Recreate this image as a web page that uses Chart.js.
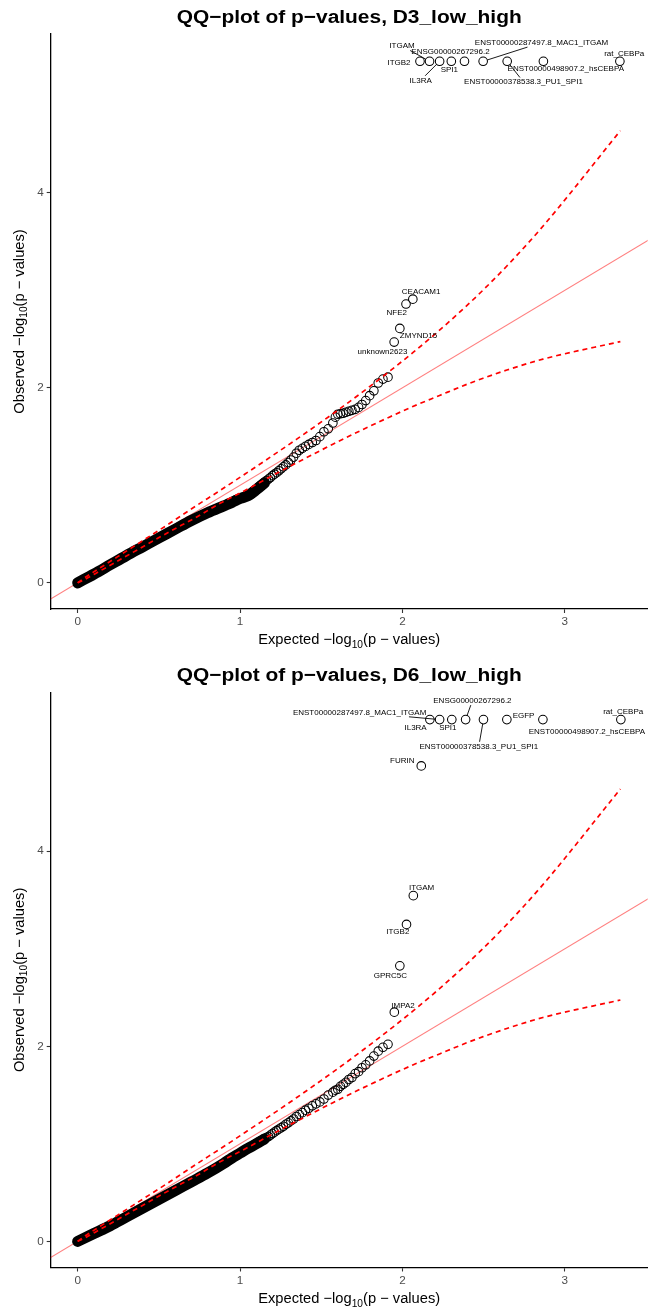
<!DOCTYPE html>
<html>
<head>
<meta charset="utf-8">
<script src="https://cdn.jsdelivr.net/npm/chart.js@4.4.0/dist/chart.umd.min.js"></script>
<style>
html,body{margin:0;padding:0;background:#fff;}
.wrap{position:relative;width:653px;height:657px;}
canvas{display:block;}
</style>
</head>
<body>
<div class="wrap"><canvas id="c1" width="653" height="657"></canvas></div>
<div class="wrap"><canvas id="c2" width="653" height="657"></canvas></div>
<script>
// ---------- shared ----------
const xTicks = [0, 1, 2, 3];
const yTicks = [0, 2, 4];
const diagX = [-1, 4];
const diagY = [-1, 4];
const ciExpected = [0.0002, 0.0416, 0.1386, 0.343, 0.565, 0.7414, 0.8668, 1.0436, 1.1994, 1.347, 1.5716, 1.751, 1.911, 2.064, 2.2285, 2.388, 2.497, 2.643, 2.865, 3.342];
const ciUpper    = [0.0000, 0.0506, 0.1543, 0.3715, 0.6084, 0.803, 0.9367, 1.131, 1.3045, 1.472, 1.735, 1.954, 2.158, 2.361, 2.592, 2.831, 3.004, 3.250, 3.658, 4.638];
const ciLower    = [0.0015, 0.0334, 0.1228, 0.3153, 0.5243, 0.6835, 0.8063, 0.9596, 1.1002, 1.230, 1.422, 1.569, 1.694, 1.809, 1.922, 2.031, 2.099, 2.183, 2.295, 2.475];

// ---------- D3_low_high ----------
const d3BandExpected = [0, 0.1, 0.2, 0.3, 0.4, 0.5, 0.6, 0.7, 0.8, 0.9, 0.95, 1.0, 1.05, 1.1, 1.15];
const d3BandObserved = [0, 0.09, 0.185, 0.28, 0.37, 0.46, 0.55, 0.64, 0.72, 0.79, 0.825, 0.865, 0.895, 0.955, 1.025];
const d3Expected = [1.911, 1.880, 1.851, 1.824, 1.798, 1.774, 1.751, 1.730, 1.709, 1.689, 1.670, 1.652, 1.635, 1.618, 1.602, 1.587,
  1.5716, 1.5431, 1.5164, 1.4912, 1.4674, 1.4448, 1.4234, 1.4029, 1.3834, 1.3647, 1.3468, 1.3296, 1.3130, 1.2971, 1.2817, 1.2669,
  1.2525, 1.2386, 1.2252, 1.2121, 1.1994, 1.1871, 1.1751, 1.1635, 1.1521, 1.1410, 1.1249, 1.1094, 1.0945, 1.0800, 1.0660, 1.0524,
  1.0307, 1.0100, 0.9902, 0.9714, 0.9533, 0.9275];
const d3Observed = [2.11, 2.09, 2.05, 1.97, 1.92, 1.87, 1.83, 1.80, 1.78, 1.77, 1.76, 1.75, 1.74, 1.735, 1.73, 1.70,
  1.64, 1.58, 1.55, 1.50, 1.46, 1.44, 1.42, 1.40, 1.38, 1.36, 1.33, 1.29, 1.26, 1.235, 1.21, 1.19,
  1.17, 1.15, 1.13, 1.115, 1.10, 1.08, 1.065, 1.05, 1.035, 1.02, 1.00, 0.98, 0.96, 0.94, 0.92, 0.90,
  0.89, 0.875, 0.86, 0.85, 0.835, 0.815];
const d3HitNames = ['ITGB2', 'ITGAM', 'IL3RA', 'SPI1', 'ENSG00000267296.2', 'ENST00000287497.8_MAC1_ITGAM', 'ENST00000378538.3_PU1_SPI1', 'ENST00000498907.2_hsCEBPA', 'rat_CEBPa', 'CEACAM1', 'NFE2', 'ZMYND15', 'unknown2623'];
const d3HitExpected = [2.108, 2.167, 2.229, 2.301, 2.382, 2.497, 2.645, 2.868, 3.339, 2.064, 2.022, 1.984, 1.949];
const d3HitObserved = [5.35, 5.35, 5.35, 5.35, 5.35, 5.35, 5.35, 5.35, 5.35, 2.91, 2.86, 2.61, 2.47];
// label layout (pixel offsets of text centre from its point; segment flag)
const d3LabelDx  = [-21, -27.5, -19, -2, -14, 58.4, 16.3, 22.4, 4.3, 8.3, -9.3, 18.7, -11.7];
const d3LabelDy  = [1, -15.3, 19, 8, -10, -18.7, 20.7, 7.3, -7.7, -7.3, 8.3, 7.4, 9.4];
const d3LabelSeg = [0, 1, 1, 0, 0, 1, 1, 0, 0, 0, 0, 0, 0];

// ---------- D6_low_high ----------
const d6BandExpected = [0, 0.1, 0.2, 0.3, 0.4, 0.5, 0.6, 0.7, 0.8, 0.9, 0.95, 1.0, 1.05, 1.1, 1.15];
const d6BandObserved = [0, 0.08, 0.16, 0.25, 0.34, 0.43, 0.52, 0.61, 0.70, 0.80, 0.855, 0.905, 0.955, 1.0, 1.05];
const d6Expected = [1.911, 1.880, 1.851, 1.824, 1.798, 1.774, 1.751, 1.730, 1.709, 1.689, 1.670, 1.652, 1.635, 1.618, 1.602, 1.587,
  1.5716, 1.5431, 1.5164, 1.4912, 1.4674, 1.4448, 1.4234, 1.4029, 1.3834, 1.3647, 1.3468, 1.3296, 1.3130, 1.2971, 1.2817, 1.2669,
  1.2525, 1.2386, 1.2252, 1.2121, 1.1994, 1.1871, 1.1751, 1.1635, 1.1521, 1.1410, 1.1249, 1.1094, 1.0945, 1.0800, 1.0660, 1.0524,
  1.0307, 1.0100, 0.9902, 0.9714, 0.9533, 0.9275];
const d6Observed = [2.02, 1.99, 1.95, 1.90, 1.85, 1.81, 1.78, 1.74, 1.72, 1.68, 1.66, 1.63, 1.61, 1.59, 1.56, 1.55,
  1.53, 1.50, 1.46, 1.43, 1.41, 1.39, 1.365, 1.345, 1.32, 1.30, 1.28, 1.255, 1.235, 1.215, 1.20, 1.18,
  1.165, 1.15, 1.135, 1.12, 1.105, 1.09, 1.075, 1.065, 1.055, 1.045, 1.03, 1.015, 1.0, 0.985, 0.97, 0.955,
  0.935, 0.915, 0.895, 0.875, 0.86, 0.835];
const d6HitNames = ['IL3RA', 'ENST00000287497.8_MAC1_ITGAM', 'SPI1', 'ENSG00000267296.2', 'ENST00000378538.3_PU1_SPI1', 'EGFP', 'ENST00000498907.2_hsCEBPA', 'rat_CEBPa', 'FURIN', 'ITGAM', 'ITGB2', 'GPRC5C', 'IMPA2'];
const d6HitExpected = [2.169, 2.229, 2.304, 2.389, 2.499, 2.643, 2.865, 3.345, 2.116, 2.067, 2.025, 1.984, 1.950];
const d6HitObserved = [5.35, 5.35, 5.35, 5.35, 5.35, 5.35, 5.35, 5.35, 4.875, 3.545, 3.25, 2.825, 2.35];
const d6LabelDx  = [-14.3, -80, -4, 6.8, -4.7, 16.7, 44, 2.3, -19, 8.3, -8.7, -9.5, 8.7];
const d6LabelDy  = [7.7, -7.3, 7.7, -19, 26.7, -4, 12, -8, -4.7, -7.4, 7.4, 9.7, -6.6];
const d6LabelSeg = [0, 1, 0, 1, 1, 0, 0, 0, 0, 0, 0, 0, 0];

const FONT = '"Liberation Sans", Arial, Helvetica, sans-serif';

function pts(xs, ys) { return xs.map((x, i) => ({ x: x, y: ys[i] })); }

function mathTitle(ctx, prefix, cx, cy, rot) {
  const big = '14.7px ' + FONT, small = '10.2px ' + FONT;
  const parts = [[prefix + ' \u2212log', big, 0], ['10', small, 3.6], ['(p \u2212 values)', big, 0]];
  ctx.save();
  ctx.translate(cx, cy);
  if (rot) ctx.rotate(-Math.PI / 2);
  let tot = 0;
  parts.forEach(p => { ctx.font = p[1]; p.w = ctx.measureText(p[0]).width; tot += p.w; });
  let x = -tot / 2;
  ctx.textAlign = 'left'; ctx.textBaseline = 'alphabetic'; ctx.fillStyle = '#000';
  parts.forEach(p => { ctx.font = p[1]; ctx.fillText(p[0], x, p[2]); x += p.w; });
  ctx.restore();
}

const qqDecor = {
  id: 'qqDecor',
  afterDatasetsDraw(chart, args, o) {
    const ctx = chart.ctx, xs = chart.scales.x, ys = chart.scales.y;
    ctx.save();
    ctx.font = '8px ' + FONT;
    ctx.textAlign = 'center'; ctx.textBaseline = 'middle';
    o.names.forEach((n, i) => {
      const px = xs.getPixelForValue(o.ex[i]), py = ys.getPixelForValue(o.ob[i]);
      const tx = px + o.dx[i], ty = py + o.dy[i];
      if (o.seg[i]) {
        const w = ctx.measureText(n).width / 2 + 1, h = 4.5;
        const vx = px - tx, vy = py - ty;
        const t = Math.min(Math.abs(vx) > 0 ? w / Math.abs(vx) : Infinity, Math.abs(vy) > 0 ? h / Math.abs(vy) : Infinity);
        const sx = tx + vx * t, sy = ty + vy * t;
        const L = Math.hypot(px - sx, py - sy), r = 4.3;
        const exx = px - (px - sx) / L * r, eyy = py - (py - sy) / L * r;
        ctx.beginPath(); ctx.moveTo(sx, sy); ctx.lineTo(exx, eyy);
        ctx.lineWidth = 0.9; ctx.strokeStyle = '#000'; ctx.stroke();
      }
      ctx.fillStyle = '#000';
      ctx.fillText(n, tx, ty);
    });
    ctx.restore();
  },
  afterDraw(chart, args, o) {
    const ctx = chart.ctx, a = chart.chartArea;
    ctx.save();
    ctx.font = 'bold 18.7px ' + FONT;
    ctx.textAlign = 'center'; ctx.textBaseline = 'alphabetic'; ctx.fillStyle = '#000';
    const w = ctx.measureText(o.title).width;
    ctx.translate((a.left + a.right) / 2, o.titleY);
    ctx.scale(o.titleWidth / w, 1);
    ctx.fillText(o.title, 0, 0);
    ctx.restore();
    mathTitle(ctx, 'Expected', (a.left + a.right) / 2, o.xTitleY, false);
    mathTitle(ctx, 'Observed', o.yTitleX, (a.top + a.bottom) / 2, true);
  }
};

function makeChart(id, cfg) {
  const datasets = [
    { // CI upper
      data: pts(ciExpected, ciUpper), showLine: true, pointRadius: 0, borderColor: '#FF0000',
      borderWidth: 1.7, borderDash: [5, 4], cubicInterpolationMode: 'monotone', order: 0, fill: false
    },
    { // CI lower
      data: pts(ciExpected, ciLower), showLine: true, pointRadius: 0, borderColor: '#FF0000',
      borderWidth: 1.7, borderDash: [5, 4], cubicInterpolationMode: 'monotone', order: 0, fill: false
    },
    { // dense band of observed points
      data: pts(cfg.bandX, cfg.bandY), showLine: true, pointRadius: 0, borderColor: '#000',
      borderWidth: 11, borderCapStyle: 'round', borderJoinStyle: 'round', cubicInterpolationMode: 'monotone', order: 1, fill: false
    },
    { // individual observed points
      data: pts(cfg.ex, cfg.ob), showLine: false, pointRadius: 4.3, pointBorderWidth: 1.05,
      pointBorderColor: '#000', pointBackgroundColor: 'rgba(0,0,0,0)', order: 1
    },
    { // labelled hits
      data: pts(cfg.hitX, cfg.hitY), showLine: false, pointRadius: 4.3, pointBorderWidth: 1.05,
      pointBorderColor: '#000', pointBackgroundColor: 'rgba(0,0,0,0)', order: 1
    },
    { // y = x
      data: pts(diagX, diagY), showLine: true, pointRadius: 0, borderColor: 'rgba(255,0,0,0.5)',
      borderWidth: 1.1, order: 2, fill: false
    }
  ];
  return new Chart(document.getElementById(id), {
    type: 'scatter',
    data: { datasets: datasets },
    plugins: [qqDecor],
    options: {
      responsive: false, animation: false, devicePixelRatio: 1,
      layout: { padding: { left: 0, right: 0, top: cfg.top, bottom: 0 } },
      plugins: {
        legend: { display: false }, title: { display: false }, tooltip: { enabled: false },
        qqDecor: {
          names: cfg.names, ex: cfg.hitX, ob: cfg.hitY, dx: cfg.dx, dy: cfg.dy, seg: cfg.seg,
          title: cfg.title, titleY: cfg.titleY, titleWidth: 345, xTitleY: cfg.xTitleY, yTitleX: 23.5
        }
      },
      scales: {
        x: {
          type: 'linear', min: -0.166, max: 3.51,
          afterBuildTicks: s => { s.ticks = xTicks.map(v => ({ value: v })); },
          afterFit: s => { s.height = cfg.xAxisH; },
          grid: { drawOnChartArea: false, drawTicks: true, tickLength: 4, tickColor: '#333', tickWidth: 1.1 },
          border: { display: true, color: '#000', width: 1.3 },
          ticks: { color: '#4D4D4D', font: { family: FONT, size: 11.7 }, padding: 2, maxRotation: 0, autoSkip: false }
        },
        y: {
          type: 'linear', min: -0.268, max: 5.63,
          afterBuildTicks: s => { s.ticks = yTicks.map(v => ({ value: v })); },
          afterFit: s => { s.width = 50.7; },
          grid: { drawOnChartArea: false, drawTicks: true, tickLength: 4, tickColor: '#333', tickWidth: 1.1 },
          border: { display: true, color: '#000', width: 1.3 },
          ticks: { color: '#4D4D4D', font: { family: FONT, size: 11.7 }, padding: 3, autoSkip: false }
        }
      }
    }
  });
}

makeChart('c1', {
  title: 'QQ\u2212plot of p\u2212values, D3_low_high', titleY: 22.7, xTitleY: 644.3, top: 34, xAxisH: 48,
  bandX: d3BandExpected, bandY: d3BandObserved, ex: d3Expected, ob: d3Observed,
  hitX: d3HitExpected, hitY: d3HitObserved, names: d3HitNames, dx: d3LabelDx, dy: d3LabelDy, seg: d3LabelSeg
});
makeChart('c2', {
  title: 'QQ\u2212plot of p\u2212values, D6_low_high', titleY: 24, xTitleY: 646.3, top: 35.3, xAxisH: 46.5,
  bandX: d6BandExpected, bandY: d6BandObserved, ex: d6Expected, ob: d6Observed,
  hitX: d6HitExpected, hitY: d6HitObserved, names: d6HitNames, dx: d6LabelDx, dy: d6LabelDy, seg: d6LabelSeg
});
</script>
</body>
</html>
